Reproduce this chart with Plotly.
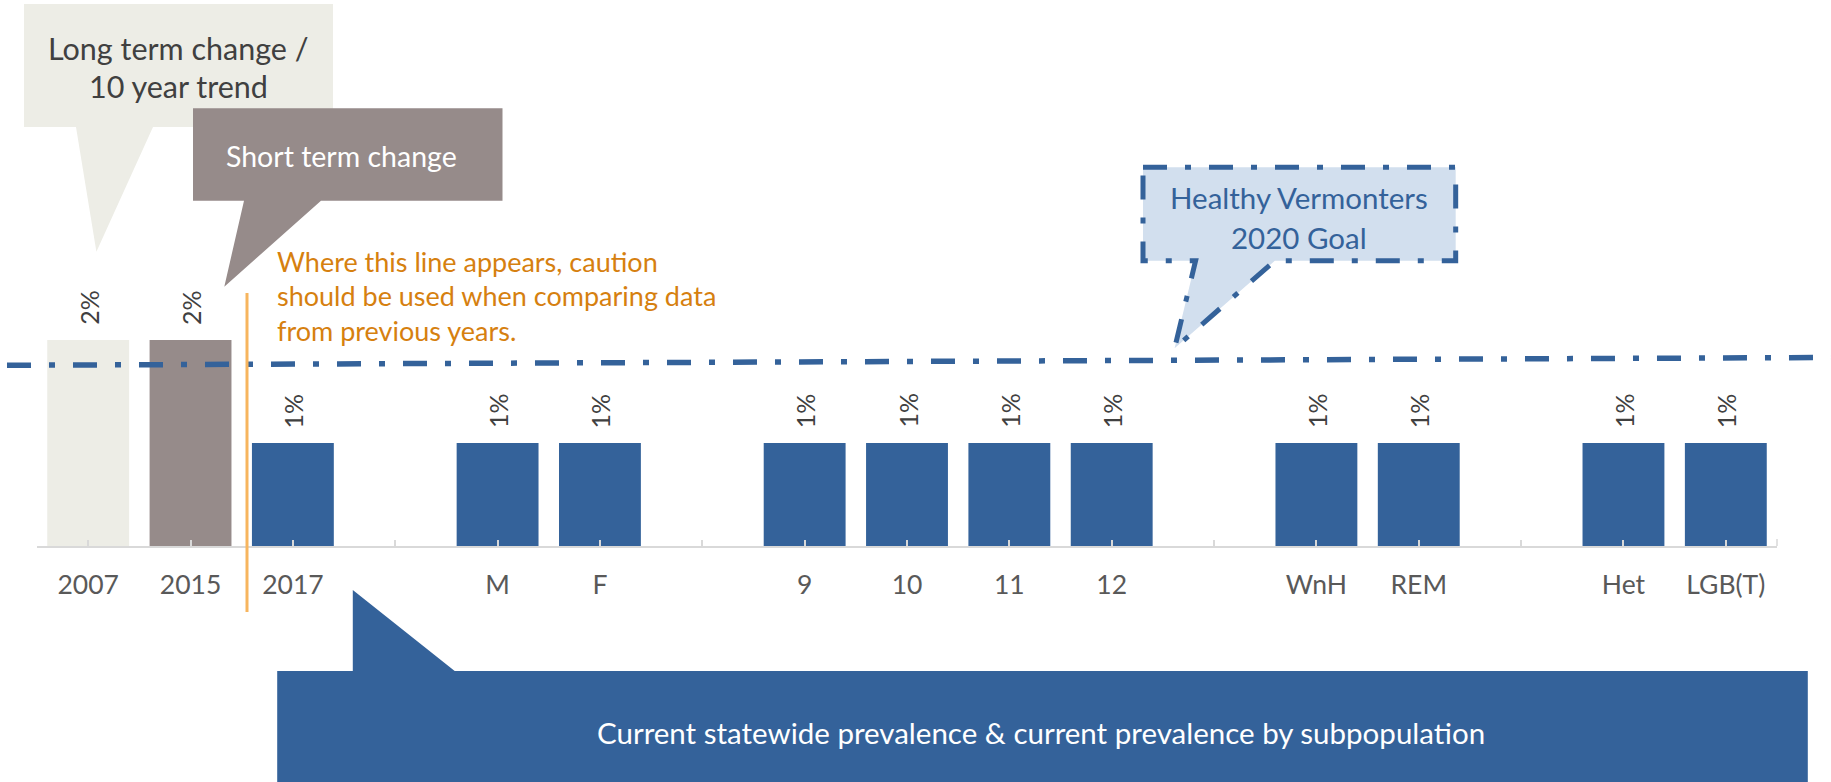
import plotly.graph_objects as go

# ---------------- data ----------------
categories = ["2007", "2015", "2017", " ", "M", "F", "  ", "9", "10", "11", "12",
              "   ", "WnH", "REM", "    ", "Het", "LGB(T)"]
values = [2, 2, 1, None, 1, 1, None, 1, 1, 1, 1, None, 1, 1, None, 1, 1]
bar_colors = ["#EDEDE6", "#968B8A"] + ["#34629A"] * 15
goal_label = ["Healthy Vermonters", "2020 Goal"]
long_term_label = ["Long term change /", "10 year trend"]
short_term_label = "Short term change"
caution_lines = ["Where this line appears, caution",
                 "should be used when comparing data",
                 "from previous years."]
bottom_label = "Current statewide prevalence & current prevalence by subpopulation"

# ---------------- layout geometry ----------------
WIDTH, HEIGHT = 1831, 782
L, PW, T, PH = 37, 1740, 134, 412
FONT = "Lato"
BLUE = "#34629A"
DASHDOT = "24px,18px,6px,18px"


def px(x):
    return (x - L) / PW


def py(y):
    return (T + PH - y) / PH


def path(points):
    return "M " + " L ".join(f"{px(x):.5f},{py(y):.5f}" for x, y in points) + " Z"


fig = go.Figure()
fig.add_trace(go.Bar(
    x=categories, y=values,
    marker=dict(color=bar_colors, line=dict(width=0)),
    width=0.8, hoverinfo="skip", showlegend=False,
))

# data labels (rotated) above each bar, positioned by category index through the axis
annotations = []
for i, v in enumerate(values):
    if v is None:
        continue
    annotations.append(dict(
        x=i, y=v, xref="x", yref="y", text=f"{v:.0f}%", textangle=-90,
        showarrow=False, xanchor="center", yanchor="bottom", yshift=13,
        font=dict(family=FONT, size=25, color="#404040"),
    ))

shapes = []
# goal line (dash-dot)
shapes.append(dict(type="line", xref="paper", yref="paper",
                   x0=px(7), y0=py(365.3), x1=px(1831), y1=py(357.5),
                   line=dict(color=BLUE, width=5.5, dash=DASHDOT),
                   layer="above"))
# caution orange line
shapes.append(dict(type="line", xref="paper", yref="paper",
                   x0=px(247), y0=py(293), x1=px(247), y1=py(612),
                   line=dict(color="#F7B55E", width=3), layer="above"))
# small closing tick at the right end of the category axis
shapes.append(dict(type="line", xref="paper", yref="paper",
                   x0=1, y0=0, x1=1, y1=py(539),
                   line=dict(color="#D9D9D9", width=1.5), layer="above"))
# long term callout
shapes.append(dict(type="path", xref="paper", yref="paper",
                   path=path([(24, 4), (333, 4), (333, 127), (153, 127), (96.4, 251.7),
                              (76, 127), (24, 127)]),
                   fillcolor="#EDEDE6", line=dict(width=0), layer="above"))
# short term callout
shapes.append(dict(type="path", xref="paper", yref="paper",
                   path=path([(193, 108.3), (502.5, 108.3), (502.5, 200.7), (321, 200.7),
                              (224.3, 286.7), (244, 200.7), (193, 200.7)]),
                   fillcolor="#968B8A", line=dict(width=0), layer="above"))
# healthy vermonters callout
shapes.append(dict(type="path", xref="paper", yref="paper",
                   path=path([(1143, 167.3), (1455.7, 167.3), (1455.7, 260.7), (1274.8, 260.7),
                              (1174.6, 348.3), (1195.6, 260.7), (1143, 260.7)]),
                   fillcolor="#D2DFEE",
                   line=dict(color=BLUE, width=5, dash=DASHDOT),
                   layer="above"))
# bottom callout
shapes.append(dict(type="path", xref="paper", yref="paper",
                   path=path([(277.2, 671), (352.8, 671), (352.8, 590), (454.7, 671),
                              (1807.8, 671), (1807.8, 800), (277.2, 800)]),
                   fillcolor=BLUE, line=dict(width=0), layer="above"))


def text_at(x, y, text, color, size=27, xanchor="center"):
    annotations.append(dict(x=px(x), y=py(y), xref="paper", yref="paper", text=text,
                            showarrow=False, xanchor=xanchor, yanchor="middle",
                            font=dict(family=FONT, size=size, color=color)))


text_at(178, 48, long_term_label[0], "#404040", size=30.5)
text_at(178, 86, long_term_label[1], "#404040", size=30.5)
text_at(341, 156, short_term_label, "#FFFFFF", size=28.5)
text_at(1299, 197, goal_label[0], BLUE, size=29.5)
text_at(1299, 237, goal_label[1], BLUE, size=29.5)
for i, line in enumerate(caution_lines):
    text_at(275, 261 + 34.5 * i, line, "#D6800F", size=27, xanchor="left")
text_at(1041, 732, bottom_label, "#FFFFFF", size=29.5)

fig.update_layout(
    width=WIDTH, height=HEIGHT,
    margin=dict(l=L, r=WIDTH - L - PW, t=T, b=HEIGHT - T - PH, pad=0),
    plot_bgcolor="white", paper_bgcolor="white",
    bargap=0.2,
    shapes=shapes, annotations=annotations,
    xaxis=dict(type="category", categoryorder="array", categoryarray=categories,
               range=[-0.5, len(categories) - 0.5],
               showline=True, linecolor="#D9D9D9", linewidth=2,
               ticks="inside", ticklen=6, tickwidth=1.5, tickcolor="#D9D9D9",
               tickfont=dict(family=FONT, size=26.5, color="#595959"),
               ticklabelstandoff=14, showgrid=False, zeroline=False,
               layer="above traces", automargin=False, fixedrange=True),
    yaxis=dict(range=[0, 4], visible=False, showgrid=False, zeroline=False,
               automargin=False, fixedrange=True),
)

fig.write_html("out.html", config={"displayModeBar": False},
               post_script="document.body.style.margin='0px';")
